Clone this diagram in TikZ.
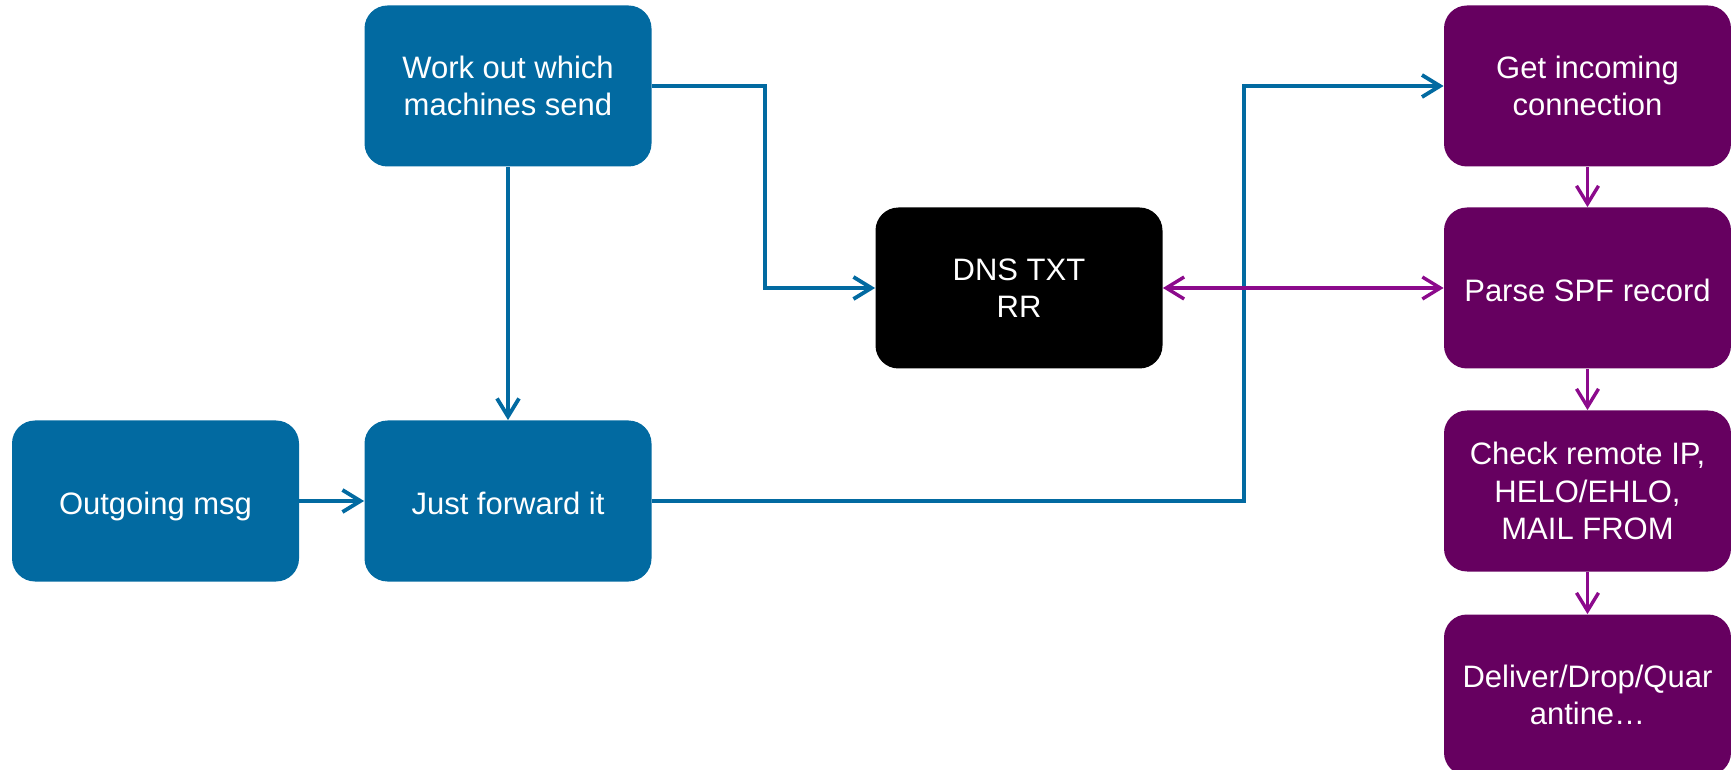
\documentclass[tikz,border=0pt]{standalone}
\usepackage{fontspec}
\setmainfont{Liberation Sans}
\usetikzlibrary{arrows.meta}
\definecolor{sendblue}{RGB}{2,106,161}
\definecolor{recvpurple}{RGB}{102,0,96}
\definecolor{recvline}{RGB}{140,10,140}
\begin{document}
\begin{tikzpicture}[x=0.5pt,y=-0.5pt,
  box/.style={rounded corners=11.5pt, minimum width=143.5pt, minimum height=80.5pt,
    inner sep=0pt, align=center, text=white,
    font=\fontsize{15.5pt}{18.6pt}\selectfont},
  oneline/.style={text height=14pt, text depth=0pt},
  sendbox/.style={box, fill=sendblue},
  recvbox/.style={box, fill=recvpurple},
  dnsbox/.style={box, fill=black},
  tip/.style={-{Straight Barb[length=9pt,width=11pt]}},
  sendline/.style={draw=sendblue, line width=1.9pt, tip},
  recvline/.style={draw=recvline, line width=1.7pt, tip},
]
\useasboundingbox (0,0) rectangle (1731,770);

% sending side
\node[sendbox] (work) at (508,86) {Work out which\\machines send};
\node[sendbox, oneline] (fwd) at (508,501) {Just forward it};
\node[sendbox, oneline] (out) at (155.5,501) {Outgoing msg};

% DNS record
\node[dnsbox] (dns) at (1019,288) {DNS TXT\\RR};

% receiving side
\node[recvbox] (get) at (1587.5,86) {Get incoming\\connection};
\node[recvbox, oneline] (parse) at (1587.5,288) {Parse SPF record};
\node[recvbox] (check) at (1587.5,491) {Check remote IP,\\HELO/EHLO,\\MAIL FROM};
\node[recvbox] (deliver) at (1587.5,695) {Deliver/Drop/Quar\\antine…};

% routing columns
\coordinate (pubcol) at (765,0);
\coordinate (fwdcol) at (1244,0);

% connectors
\draw[sendline] (work.east) -- (pubcol |- work.east) |- (dns.west);
\draw[sendline] (work.south) -- (fwd.north);
\draw[sendline] (out.east) -- (fwd.west);
\draw[sendline] (fwd.east) -- (fwdcol |- fwd.east) |- (get.west);

\draw[recvline, {Straight Barb[length=9pt,width=11pt]}-{Straight Barb[length=9pt,width=11pt]}] (dns.east) -- (parse.west);
\draw[recvline] (get.south) -- (parse.north);
\draw[recvline] (parse.south) -- (check.north);
\draw[recvline] (check.south) -- (deliver.north);
\end{tikzpicture}
\end{document}
